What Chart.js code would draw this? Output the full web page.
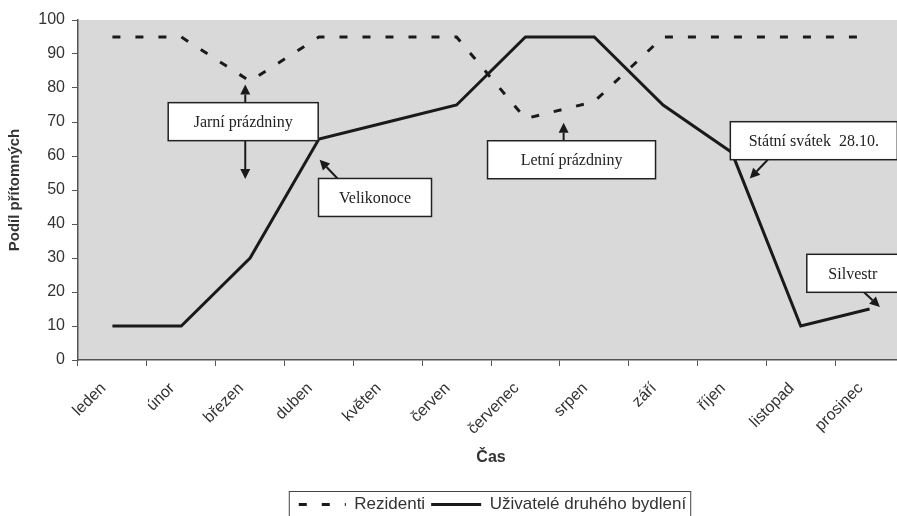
<!DOCTYPE html>
<html lang="cs">
<head>
<meta charset="utf-8">
<title>Podíl přítomných</title>
<script src="https://cdn.jsdelivr.net/npm/chart.js@4.4.1/dist/chart.umd.min.js"></script>
<style>
  html, body { margin: 0; padding: 0; background: #fff; overflow: hidden; }
  #obal { width: 910px; height: 516px; }
</style>
</head>
<body>
<div id="obal"><canvas id="graf"></canvas></div>
<script>
// data
const mesice = ["leden", "únor", "březen", "duben", "květen", "červen", "červenec", "srpen", "září", "říjen", "listopad", "prosinec"];
const rezidenti = [95, 95, 82, 95, 95, 95, 71, 76, 95, 95, 95, 95];
const druheBydleni = [10, 10, 30, 65, 70, 75, 95, 95, 75, 61, 10, 15];
const osaY = [0, 10, 20, 30, 40, 50, 60, 70, 80, 90, 100];

// popisky se šipkami (x = index měsíce, y = hodnota)
const popisky = [
  { text: "Jarní prázdniny", x: 1.90, y: 70.1, w: 150, h: 38,
    sipky: [[1.93, 75.7, 1.93, 81.0], [1.93, 64.5, 1.93, 53.2]] },
  { text: "Velikonoce", x: 3.815, y: 47.8, w: 113, h: 38,
    sipky: [[3.27, 53.4, 3.01, 58.9]] },
  { text: "Letní prázdniny", x: 6.67, y: 58.9, w: 168, h: 38,
    sipky: [[6.555, 64.5, 6.555, 69.8]] },
  { text: "Státní svátek  28.10.", x: 10.19, y: 64.5, w: 167, h: 38,
    sipky: [[9.52, 58.9, 9.26, 53.4]] },
  { text: "Silvestr", x: 10.756, y: 25.5, w: 92, h: 38,
    sipky: [[10.92, 19.9, 11.15, 15.6]] }
];

const cerna = "#1a1a1a";
const sedaText = "#333";
const pismo = "'Liberation Sans', Arial, sans-serif";

// šedé pozadí plochy grafu
const pozadi = {
  id: "pozadi",
  beforeDraw(chart) {
    const { ctx, chartArea: a } = chart;
    ctx.save();
    ctx.fillStyle = "#d9d9d9";
    ctx.fillRect(a.left, a.top, a.right - a.left, a.bottom - a.top);
    ctx.restore();
  }
};

function sipka(ctx, x1, y1, x2, y2) {
  const u = Math.atan2(y2 - y1, x2 - x1);
  const d = 10, s = 5;
  const bx = x2 - d * Math.cos(u), by = y2 - d * Math.sin(u);
  ctx.beginPath();
  ctx.moveTo(x1, y1);
  ctx.lineTo(bx, by);
  ctx.stroke();
  ctx.beginPath();
  ctx.moveTo(x2, y2);
  ctx.lineTo(bx + s * Math.sin(u), by - s * Math.cos(u));
  ctx.lineTo(bx - s * Math.sin(u), by + s * Math.cos(u));
  ctx.closePath();
  ctx.fill();
}

// popisky + rámeček legendy
const poznamky = {
  id: "poznamky",
  afterDraw(chart) {
    const { ctx, scales: { x, y } } = chart;
    ctx.save();
    ctx.strokeStyle = cerna;
    ctx.fillStyle = cerna;
    ctx.lineWidth = 2;
    popisky.forEach(p => {
      p.sipky.forEach(s => {
        sipka(ctx, x.getPixelForValue(s[0]), y.getPixelForValue(s[1]),
                   x.getPixelForValue(s[2]), y.getPixelForValue(s[3]));
      });
    });
    popisky.forEach(p => {
      const cx = x.getPixelForValue(p.x), cy = y.getPixelForValue(p.y);
      ctx.fillStyle = "#fff";
      ctx.fillRect(cx - p.w / 2, cy - p.h / 2, p.w, p.h);
      ctx.lineWidth = 1.5;
      ctx.strokeStyle = "#222";
      ctx.strokeRect(cx - p.w / 2, cy - p.h / 2, p.w, p.h);
      ctx.fillStyle = "#222";
      ctx.font = "16px 'Liberation Serif', 'Times New Roman', serif";
      ctx.textAlign = "center";
      ctx.textBaseline = "middle";
      ctx.fillText(p.text, cx, cy + 1);
    });

    // rámeček kolem legendy
    const hb = chart.legend.legendHitBoxes;
    if (hb && hb.length) {
      const last = hb[hb.length - 1];
      const l = hb[0].left - 7, r = last.left + last.width + 4;
      const t = hb[0].top - 5;
      ctx.lineWidth = 1;
      ctx.strokeStyle = "#444";
      ctx.strokeRect(l + 0.5, t + 0.5, r - l, 40);
    }
    ctx.restore();
  }
};

new Chart(document.getElementById("graf"), {
  type: "line",
  data: {
    labels: mesice,
    datasets: [
      {
        label: "Rezidenti",
        data: rezidenti,
        borderColor: cerna,
        backgroundColor: cerna,
        borderWidth: 3,
        borderDash: [8, 15],
        pointRadius: 0,
        tension: 0
      },
      {
        label: "Uživatelé druhého bydlení",
        data: druheBydleni,
        borderColor: cerna,
        backgroundColor: cerna,
        borderWidth: 3,
        pointRadius: 0,
        tension: 0
      }
    ]
  },
  options: {
    responsive: true,
    maintainAspectRatio: false,
    animation: false,
    layout: { padding: { top: 20, right: 6, bottom: -7, left: 0 } },
    plugins: {
      tooltip: { enabled: false },
      legend: {
        position: "bottom",
        fullSize: false,
        labels: {
          usePointStyle: true,
          pointStyle: "line",
          pointStyleWidth: 50,
          padding: 6,
          color: sedaText,
          font: { family: pismo, size: 17 },
          generateLabels: chart =>
            Chart.defaults.plugins.legend.labels.generateLabels(chart).map((it, i) => ({
              ...it,
              lineDash: chart.data.datasets[i].borderDash || [],
              lineDashOffset: -3,
              lineWidth: 3,
              strokeStyle: cerna
            }))
        }
      }
    },
    scales: {
      x: {
        offset: true,
        afterFit: s => { s.height = 130; },
        grid: { offset: true, drawOnChartArea: false, tickLength: 6, color: "#555" },
        border: { color: "#555", width: 1.5 },
        ticks: {
          autoSkip: false,
          minRotation: 45,
          maxRotation: 45,
          padding: 13,
          labelOffset: -9,
          color: sedaText,
          font: { family: pismo, size: 16 }
        },
        title: {
          display: true,
          text: "Čas",
          color: sedaText,
          padding: { top: 0, bottom: 23 },
          font: { family: pismo, size: 16, weight: "bold" }
        }
      },
      y: {
        min: 0,
        max: 100,
        afterFit: s => { s.width = 78; },
        afterBuildTicks: s => { s.ticks = osaY.map(v => ({ value: v })); },
        grid: { drawOnChartArea: false, tickLength: 6, color: "#555" },
        border: { color: "#555", width: 1.5 },
        ticks: {
          padding: 7,
          color: sedaText,
          font: { family: pismo, size: 16 }
        },
        title: {
          display: true,
          text: "Podíl přítomných",
          color: sedaText,
          padding: { top: 6, bottom: 0 },
          font: { family: pismo, size: 15, weight: "bold" }
        }
      }
    }
  },
  plugins: [pozadi, poznamky]
});
</script>
</body>
</html>
